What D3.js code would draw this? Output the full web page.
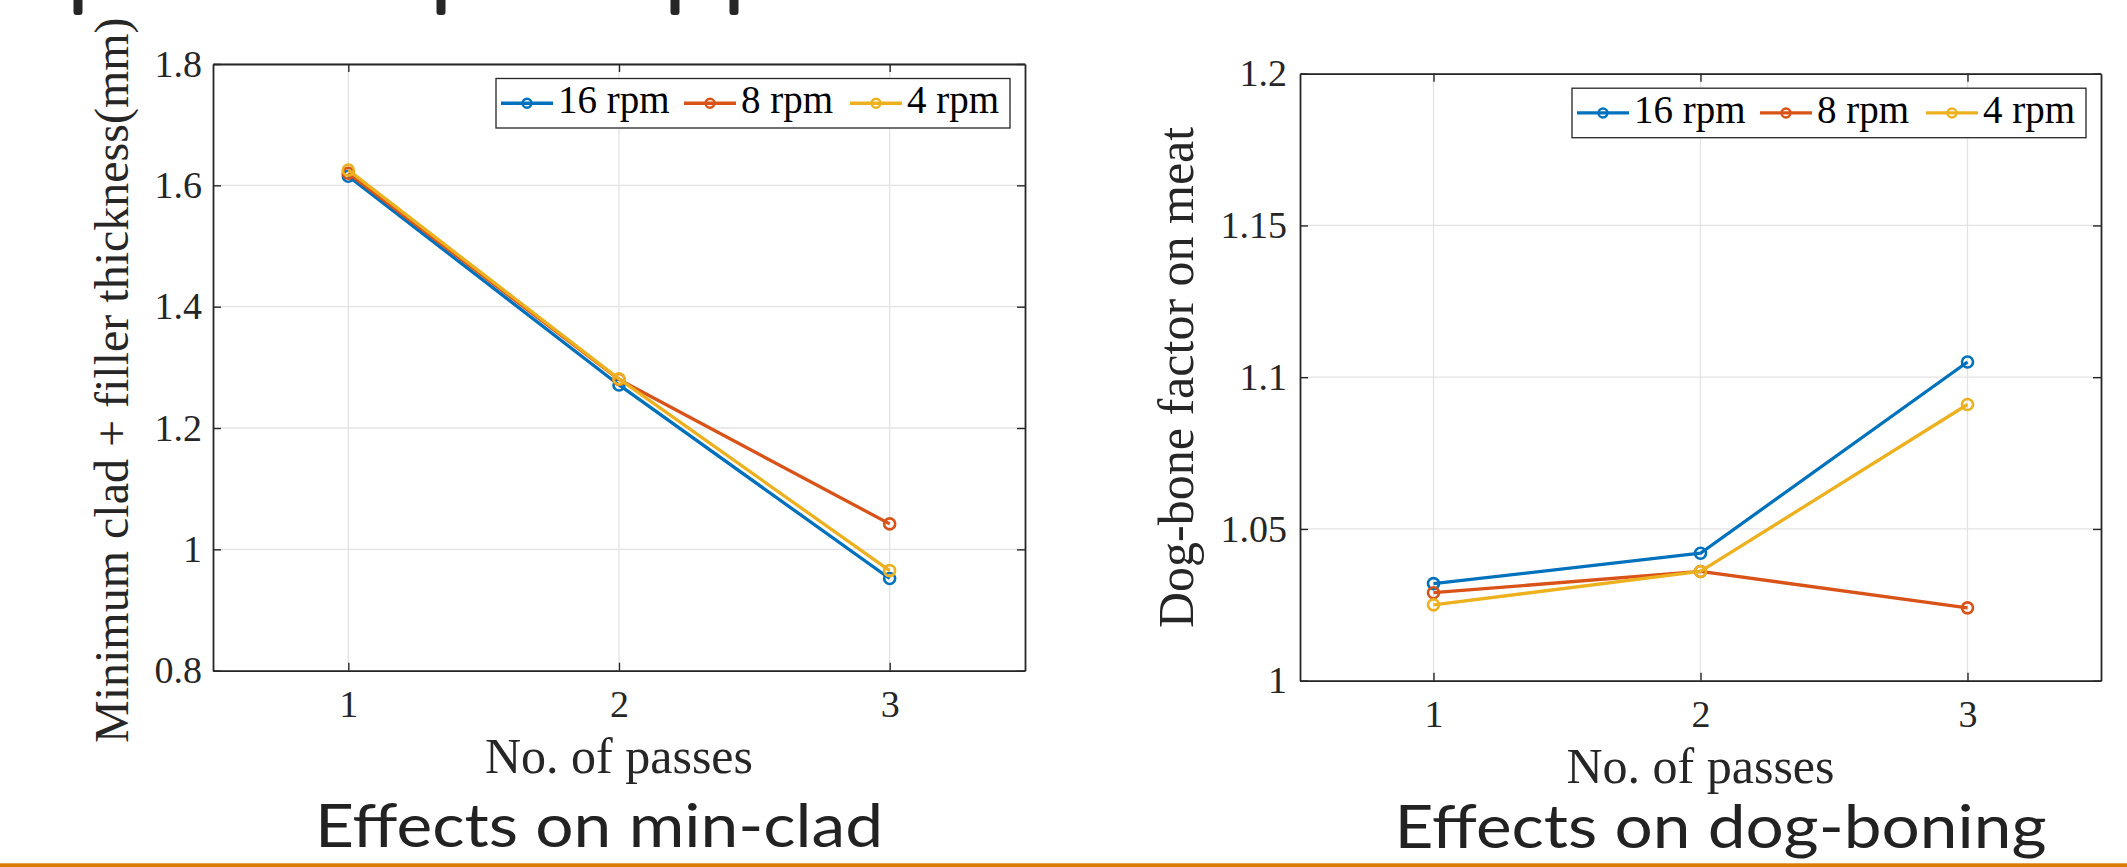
<!DOCTYPE html>
<html>
<head>
<meta charset="utf-8">
<script src="https://cdn.jsdelivr.net/npm/d3@7/dist/d3.min.js"></script>
<style>
  html, body { margin: 0; padding: 0; background: #ffffff; }
  svg { display: block; }
</style>
</head>
<body>
<script>
// ---------- data ----------
const passes = [1, 2, 3];
const seriesNames = ["16 rpm", "8 rpm", "4 rpm"];
const seriesColors = ["#0072BD", "#D95319", "#EDB120"];

const minClad16 = [1.615, 1.271, 0.952];
const minClad8  = [1.620, 1.280, 1.042];
const minClad4  = [1.625, 1.281, 0.965];

const dogBone16 = [1.032, 1.042, 1.105];
const dogBone8  = [1.029, 1.036, 1.024];
const dogBone4  = [1.025, 1.036, 1.091];

const xTicks = [1, 2, 3];
const minCladTicks = [0.8, 1, 1.2, 1.4, 1.6, 1.8];
const dogBoneTicks = [1, 1.05, 1.1, 1.15, 1.2];

const minCladLabel = "Minimum clad + filler thickness(mm)";
const dogBoneLabel = "Dog-bone factor on meat";
const xLabel = "No. of passes";
const minCladTitle = "Effects on min-clad";
const dogBoneTitle = "Effects on dog-boning";

// ---------- drawing ----------
const W = 2127, H = 867;
const svg = d3.select("body").append("svg").attr("width", W).attr("height", H);

const SERIF = "'Liberation Serif', 'Times New Roman', serif";
const AX = "#262626";

// fragments of the slide heading cut by the top edge
[78, 441, 675, 734].forEach(cx => {
  svg.append("rect").attr("x", cx - 4.5).attr("y", -6).attr("width", 9).attr("height", 21)
    .attr("rx", 3).attr("fill", "#262626");
});

function drawChart(cfg) {
  const { x0, x1, y0, y1 } = cfg;
  const g = svg.append("g");
  const x = d3.scaleLinear().domain([0.5, 3.5]).range([x0, x1]);
  const y = d3.scaleLinear().domain(cfg.yDomain).range([y1, y0]);

  // grid
  g.append("g").selectAll("line").data(xTicks).join("line")
    .attr("x1", d => x(d)).attr("x2", d => x(d)).attr("y1", y0).attr("y2", y1)
    .attr("stroke", "#e3e3e3").attr("stroke-width", 1.3);
  g.append("g").selectAll("line").data(cfg.yTicks).join("line")
    .attr("x1", x0).attr("x2", x1).attr("y1", d => y(d)).attr("y2", d => y(d))
    .attr("stroke", "#e3e3e3").attr("stroke-width", 1.3);

  const fmt = d3.format("~g");
  const styleAxis = sel => {
    sel.select(".domain").attr("stroke", AX).attr("stroke-width", 1.8);
    sel.selectAll(".tick line").attr("stroke", AX).attr("stroke-width", 1.4);
    sel.selectAll(".tick text").attr("fill", "#262626")
      .style("font-family", SERIF).style("font-size", "38px");
  };

  g.append("g").attr("transform", `translate(0,${y1})`)
    .call(d3.axisBottom(x).tickValues(xTicks).tickFormat(fmt).tickSize(-8).tickSizeOuter(0).tickPadding(19))
    .call(styleAxis);
  g.append("g").attr("transform", `translate(0,${y0})`)
    .call(d3.axisTop(x).tickValues(xTicks).tickFormat("").tickSize(-8).tickSizeOuter(0))
    .call(styleAxis);
  g.append("g").attr("transform", `translate(${x0},0)`)
    .call(d3.axisLeft(y).tickValues(cfg.yTicks).tickFormat(fmt).tickSize(-8).tickSizeOuter(0).tickPadding(cfg.yPad))
    .call(styleAxis);
  g.append("g").attr("transform", `translate(${x1},0)`)
    .call(d3.axisRight(y).tickValues(cfg.yTicks).tickFormat("").tickSize(-8).tickSizeOuter(0))
    .call(styleAxis);

  // series
  const line = d3.line().x(d => x(d.p)).y(d => y(d.v));
  cfg.series.forEach((vals, i) => {
    const pts = passes.map((p, k) => ({ p, v: vals[k] }));
    g.append("path").datum(pts).attr("d", line)
      .attr("fill", "none").attr("stroke", seriesColors[i]).attr("stroke-width", 3.3)
      .attr("stroke-linejoin", "round");
    g.append("g").selectAll("circle").data(pts).join("circle")
      .attr("cx", d => x(d.p)).attr("cy", d => y(d.v)).attr("r", 5.5)
      .attr("fill", "none").attr("stroke", seriesColors[i]).attr("stroke-width", 2.6);
  });

  // legend
  const lw = 514, lh = 49.5;
  const lx = x1 - 15 - lw, ly = y0 + 14.5;
  const lg = g.append("g").attr("transform", `translate(${lx},${ly})`);
  lg.append("rect").attr("width", lw).attr("height", lh)
    .attr("fill", "#fff").attr("stroke", AX).attr("stroke-width", 1.3);
  const offs = [5, 188, 354];
  seriesNames.forEach((name, i) => {
    const e = lg.append("g").attr("transform", `translate(${offs[i]},${lh / 2})`);
    e.append("line").attr("x1", 0).attr("x2", 52).attr("y1", 0).attr("y2", 0)
      .attr("stroke", seriesColors[i]).attr("stroke-width", 3.3);
    e.append("circle").attr("cx", 26).attr("cy", 0).attr("r", 4.5)
      .attr("fill", "none").attr("stroke", seriesColors[i]).attr("stroke-width", 2.4);
    e.append("text").attr("x", 57).attr("y", 10).text(name)
      .attr("fill", "#000").style("font-family", SERIF).style("font-size", "39px");
  });

  // axis labels
  g.append("text").attr("x", x(2)).attr("y", cfg.xLabelY).attr("text-anchor", "middle")
    .text(xLabel).attr("fill", "#262626").style("font-family", SERIF).style("font-size", "50px");
  g.append("text").attr("transform", `translate(${cfg.yLabelX},${cfg.yLabelStart}) rotate(-90)`)
    .attr("text-anchor", "start").text(cfg.yLabel).attr("fill", "#262626")
    .style("font-family", SERIF).style("font-size", cfg.yLabelSize + "px");

  // slide caption
  svg.append("text").attr("x", cfg.titleX).attr("y", cfg.titleY).attr("text-anchor", "middle")
    .attr("textLength", cfg.titleLen).attr("lengthAdjust", "spacingAndGlyphs")
    .text(cfg.title).attr("fill", "#222")
    .style("font-family", "Lato, 'Open Sans', sans-serif").style("font-size", "60px");
}

drawChart({
  x0: 213, x1: 1025, y0: 64, y1: 670.7,
  yDomain: [0.8, 1.8], yTicks: minCladTicks, yPad: 11,
  series: [minClad16, minClad8, minClad4],
  yLabel: minCladLabel, yLabelX: 128, yLabelStart: 743, yLabelSize: 48,
  xLabelY: 773,
  title: minCladTitle, titleX: 599, titleY: 847, titleLen: 568
});

drawChart({
  x0: 1300, x1: 2101, y0: 73.7, y1: 680.7,
  yDomain: [1, 1.2], yTicks: dogBoneTicks, yPad: 13,
  series: [dogBone16, dogBone8, dogBone4],
  yLabel: dogBoneLabel, yLabelX: 1193, yLabelStart: 628, yLabelSize: 50,
  xLabelY: 783,
  title: dogBoneTitle, titleX: 1720.5, titleY: 848, titleLen: 652
});

// orange rule at the bottom of the slide
svg.append("rect").attr("x", 0).attr("y", 863.3).attr("width", W).attr("height", 4)
  .attr("fill", "#D97B05");
</script>
</body>
</html>
